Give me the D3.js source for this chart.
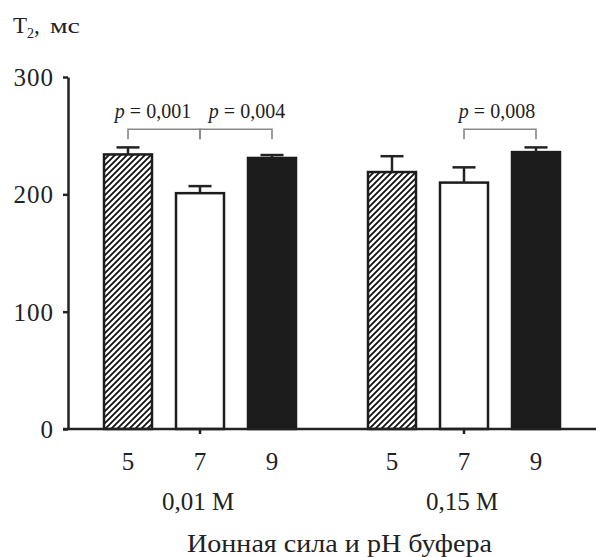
<!DOCTYPE html>
<html>
<head>
<meta charset="utf-8">
<script src="https://cdn.jsdelivr.net/npm/d3@7"></script>
<style>
  body { margin: 0; background: #fff; }
  text { font-family: "Liberation Serif", "Times New Roman", serif; fill: #222; }
</style>
</head>
<body>
<div id="chart"></div>
<script>
// data
const groups = ["0,01 M", "0,15 M"]
const phLevels = ["5", "7", "9"]
const meanLow = [234, 201, 231]      // 0,01 M
const errLow = [6, 6, 2.5]
const meanHigh = [219, 210, 236]     // 0,15 M
const errHigh = [13.5, 13, 4]
const yTicks = [0, 100, 200, 300]
const brackets = [
    {group: 0, from: 0, to: 1, p: "0,001"},
    {group: 0, from: 1, to: 2, p: "0,004"},
    {group: 1, from: 1, to: 2, p: "0,008"}
]

const width = 596, height = 557

const svg = d3.select("#chart").append("svg")
    .attr("width", width)
    .attr("height", height)

// hatch for pH 5
const defs = svg.append("defs")
defs.append("pattern")
    .attr("id", "hatch")
    .attr("patternUnits", "userSpaceOnUse")
    .attr("width", 6)
    .attr("height", 6)
    .append("path")
    .attr("d", "M-1,1 l2,-2 M0,6 l6,-6 M5,7 l2,-2")
    .attr("stroke", "#111")
    .attr("stroke-width", 1.8)

const fills = ["url(#hatch)", "#fff", "#1c1c1c"]

// scales
const x0 = d3.scaleBand().domain(groups).range([68, 596])
const x1 = d3.scaleBand().domain(phLevels).range([0, x0.bandwidth()])
    .paddingInner(1/3).paddingOuter(0.5)
const y = d3.scaleLinear().domain([0, 300]).range([429, 77])

let rows = []
groups.forEach((g, gi) => {
    let means = gi === 0 ? meanLow : meanHigh
    let errs = gi === 0 ? errLow : errHigh
    phLevels.forEach((ph, i) => {
        rows.push({group: g, ph: ph, idx: i, mean: means[i], err: errs[i]})
    })
})

const cx = d => x0(d.group) + x1(d.ph) + x1.bandwidth() / 2

// bars
svg.selectAll(".bar")
    .data(rows)
    .enter().append("rect")
    .attr("class", "bar")
    .attr("x", d => x0(d.group) + x1(d.ph))
    .attr("y", d => y(d.mean))
    .attr("width", x1.bandwidth())
    .attr("height", d => y(0) - y(d.mean))
    .attr("fill", d => fills[d.idx])
    .attr("stroke", "#1c1c1c")
    .attr("stroke-width", 2.5)

// error bars
const capW = 23
const eb = svg.selectAll(".err")
    .data(rows)
    .enter().append("g")
    .attr("class", "err")
    .attr("stroke", "#222")
    .attr("stroke-width", 2.5)
eb.append("line")
    .attr("x1", cx).attr("x2", cx)
    .attr("y1", d => y(d.mean))
    .attr("y2", d => y(d.mean + d.err))
eb.append("line")
    .attr("x1", d => cx(d) - capW / 2).attr("x2", d => cx(d) + capW / 2)
    .attr("y1", d => y(d.mean + d.err))
    .attr("y2", d => y(d.mean + d.err))

// y axis
const yAxis = svg.append("g")
    .attr("transform", "translate(68,0)")
    .call(d3.axisLeft(y).tickValues(yTicks).tickSize(5).tickSizeOuter(0).tickPadding(9))
yAxis.select(".domain").attr("stroke", "#222").attr("stroke-width", 2.5)
yAxis.selectAll(".tick line").attr("stroke", "#222").attr("stroke-width", 2.5)
yAxis.selectAll(".tick text")
    .style("font-family", "Liberation Serif")
    .style("font-size", "25px")
    .style("letter-spacing", "1px")
    .attr("fill", "#222")
    .attr("dy", "0.34em")

// x axis line
svg.append("line")
    .attr("x1", 63).attr("x2", width)
    .attr("y1", y(0)).attr("y2", y(0))
    .attr("stroke", "#222")
    .attr("stroke-width", 2.5)

// group tick marks
svg.selectAll(".gtick")
    .data(groups)
    .enter().append("line")
    .attr("x1", d => x0(d) + x0.bandwidth() / 2)
    .attr("x2", d => x0(d) + x0.bandwidth() / 2)
    .attr("y1", y(0))
    .attr("y2", y(0) + 5)
    .attr("stroke", "#222")
    .attr("stroke-width", 2.5)

// pH labels
svg.selectAll(".phlab")
    .data(rows)
    .enter().append("text")
    .attr("x", cx)
    .attr("y", 470)
    .attr("text-anchor", "middle")
    .style("font-size", "25px")
    .text(d => d.ph)

// group labels
svg.selectAll(".glab")
    .data(groups)
    .enter().append("text")
    .attr("x", d => x0(d) + x0.bandwidth() / 2 - 2)
    .attr("y", 510)
    .attr("text-anchor", "middle")
    .style("font-size", "25px")
    .text(d => d)

// axis titles
svg.append("text")
    .attr("x", 187)
    .attr("y", 552)
    .style("font-size", "26px")
    .attr("fill", "#333")
    .attr("textLength", 305)
    .attr("lengthAdjust", "spacingAndGlyphs")
    .text("Ионная сила и pH буфера")

const t2 = svg.append("text")
    .attr("x", 13)
    .attr("y", 33)
    .style("font-size", "23px")
t2.append("tspan").text("T")
t2.append("tspan").attr("dy", 5).style("font-size", "14px").text("2")
t2.append("tspan").attr("dy", -5).text(",")
t2.append("tspan").attr("x", 50).style("font-size", "21px")
    .attr("textLength", 30).attr("lengthAdjust", "spacingAndGlyphs").text("мс")

// significance brackets
const bx = (b, i) => x0(groups[b.group]) + x1(phLevels[i]) + x1.bandwidth() / 2
const bTop = y(255.5), bEnd = y(247)

brackets.forEach((b, k) => {
    let xa = bx(b, b.from), xb = bx(b, b.to)
    svg.append("path")
        .attr("d", `M${xa},${bEnd} V${bTop} H${xb} V${bEnd}`)
        .attr("fill", "none")
        .attr("stroke", "#888")
        .attr("stroke-width", 1.6)

    // neighbouring labels over the first group are pushed apart
    let shared = brackets.filter(o => o.group === b.group).length > 1
    let tx = (xa + xb) / 2
    if (shared) tx += (b.from === 0 ? -11 : 11)
    else tx -= 3
    let t = svg.append("text")
        .attr("x", tx)
        .attr("y", 118)
        .attr("text-anchor", "middle")
        .style("font-size", "20px")
        .attr("fill", "#444")
    t.append("tspan").style("font-style", "italic").text("p")
    t.append("tspan").text(" = " + b.p)
})
</script>
</body>
</html>
